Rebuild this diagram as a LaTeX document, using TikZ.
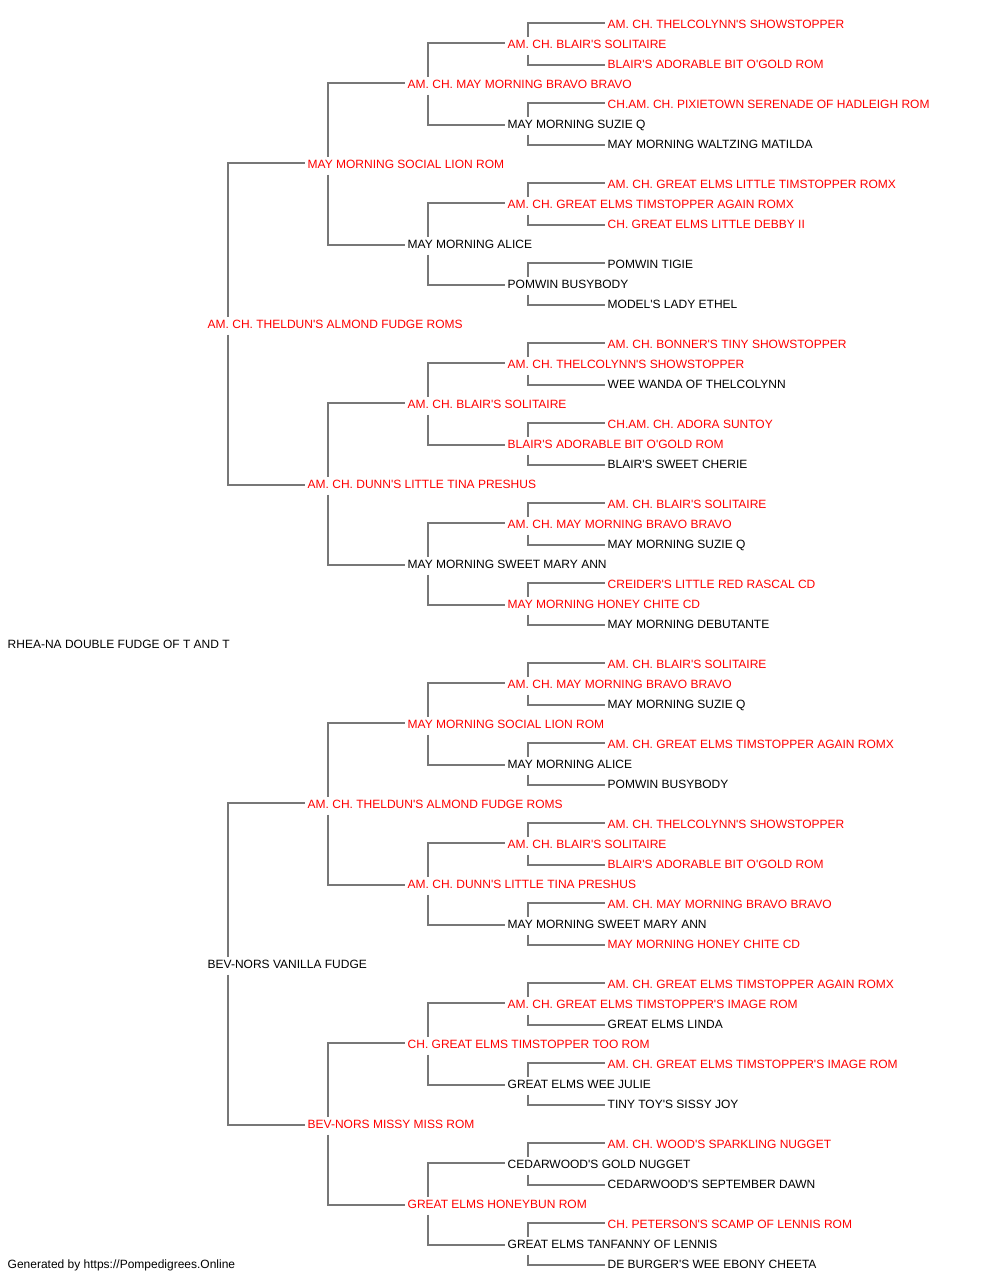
\documentclass[tikz,border=0pt]{standalone}
\usepackage{xcolor}
\usepackage{fontspec}
\setmainfont{Liberation Sans}[Ligatures=TeXOff]
\usepackage{tikz}
\usetikzlibrary{calc}
\definecolor{pedred}{HTML}{FF0000}
\definecolor{linegray}{HTML}{777777}
\newcommand{\pedlink}[3]{%
  \draw[pedline] ([xshift=20pt]#1.north west) |- ([xshift=-3pt,yshift=5.5pt]#2.base west);%
  \draw[pedline] ([xshift=20pt]#1.south west) |- ([xshift=-3pt,yshift=3.5pt]#3.base west);}

\begin{document}
\begin{tikzpicture}[x=1pt,y=-1pt]
    \tikzstyle{every node}=[font=\fontsize{12pt}{14pt}\selectfont, anchor=base west, inner sep=0pt, text height=11pt, text depth=6.5pt]
    \tikzstyle{champ}=[text=pedred]
    \tikzstyle{pedline}=[draw=linegray, line width=2pt]
    \fill[white] (0,0) rectangle (1000,1280);
    \useasboundingbox (0,0) rectangle (1000,1280);
    % root and parents
    \node (R) at (7.5,648) {RHEA-NA DOUBLE FUDGE OF T AND T}; %
    \node[champ] (S) at (207.5,328) {AM. CH. THELDUN'S ALMOND FUDGE ROMS}; %
    \node (D) at (207.5,968) {BEV-NORS VANILLA FUDGE}; %
    % grandparents
    \node[champ] (SS) at (307.5,168) {MAY MORNING SOCIAL LION ROM}; %
    \node[champ] (SD) at (307.5,488) {AM. CH. DUNN'S LITTLE TINA PRESHUS}; %
    \node[champ] (DS) at (307.5,808) {AM. CH. THELDUN'S ALMOND FUDGE ROMS}; %
    \node[champ] (DD) at (307.5,1128) {BEV-NORS MISSY MISS ROM}; %
    % third generation
    \node[champ] (SSS) at (407.5,88) {AM. CH. MAY MORNING BRAVO BRAVO}; %
    \node (SSD) at (407.5,248) {MAY MORNING ALICE}; %
    \node[champ] (SDS) at (407.5,408) {AM. CH. BLAIR'S SOLITAIRE}; %
    \node (SDD) at (407.5,568) {MAY MORNING SWEET MARY ANN}; %
    \node[champ] (DSS) at (407.5,728) {MAY MORNING SOCIAL LION ROM}; %
    \node[champ] (DSD) at (407.5,888) {AM. CH. DUNN'S LITTLE TINA PRESHUS}; %
    \node[champ] (DDS) at (407.5,1048) {CH. GREAT ELMS TIMSTOPPER TOO ROM}; %
    \node[champ] (DDD) at (407.5,1208) {GREAT ELMS HONEYBUN ROM}; %
    % fourth generation
    \node[champ] (SSSS) at (507.5,48) {AM. CH. BLAIR'S SOLITAIRE}; %
    \node (SSSD) at (507.5,128) {MAY MORNING SUZIE Q}; %
    \node[champ] (SSDS) at (507.5,208) {AM. CH. GREAT ELMS TIMSTOPPER AGAIN ROMX}; %
    \node (SSDD) at (507.5,288) {POMWIN BUSYBODY}; %
    \node[champ] (SDSS) at (507.5,368) {AM. CH. THELCOLYNN'S SHOWSTOPPER}; %
    \node[champ] (SDSD) at (507.5,448) {BLAIR'S ADORABLE BIT O'GOLD ROM}; %
    \node[champ] (SDDS) at (507.5,528) {AM. CH. MAY MORNING BRAVO BRAVO}; %
    \node[champ] (SDDD) at (507.5,608) {MAY MORNING HONEY CHITE CD}; %
    \node[champ] (DSSS) at (507.5,688) {AM. CH. MAY MORNING BRAVO BRAVO}; %
    \node (DSSD) at (507.5,768) {MAY MORNING ALICE}; %
    \node[champ] (DSDS) at (507.5,848) {AM. CH. BLAIR'S SOLITAIRE}; %
    \node (DSDD) at (507.5,928) {MAY MORNING SWEET MARY ANN}; %
    \node[champ] (DDSS) at (507.5,1008) {AM. CH. GREAT ELMS TIMSTOPPER'S IMAGE ROM}; %
    \node (DDSD) at (507.5,1088) {GREAT ELMS WEE JULIE}; %
    \node (DDDS) at (507.5,1168) {CEDARWOOD'S GOLD NUGGET}; %
    \node (DDDD) at (507.5,1248) {GREAT ELMS TANFANNY OF LENNIS}; %
    % fifth generation
    \node[champ] (SSSSS) at (607.5,28) {AM. CH. THELCOLYNN'S SHOWSTOPPER}; %
    \node[champ] (SSSSD) at (607.5,68) {BLAIR'S ADORABLE BIT O'GOLD ROM}; %
    \node[champ] (SSSDS) at (607.5,108) {CH.AM. CH. PIXIETOWN SERENADE OF HADLEIGH ROM}; %
    \node (SSSDD) at (607.5,148) {MAY MORNING WALTZING MATILDA}; %
    \node[champ] (SSDSS) at (607.5,188) {AM. CH. GREAT ELMS LITTLE TIMSTOPPER ROMX}; %
    \node[champ] (SSDSD) at (607.5,228) {CH. GREAT ELMS LITTLE DEBBY II}; %
    \node (SSDDS) at (607.5,268) {POMWIN TIGIE}; %
    \node (SSDDD) at (607.5,308) {MODEL'S LADY ETHEL}; %
    \node[champ] (SDSSS) at (607.5,348) {AM. CH. BONNER'S TINY SHOWSTOPPER}; %
    \node (SDSSD) at (607.5,388) {WEE WANDA OF THELCOLYNN}; %
    \node[champ] (SDSDS) at (607.5,428) {CH.AM. CH. ADORA SUNTOY}; %
    \node (SDSDD) at (607.5,468) {BLAIR'S SWEET CHERIE}; %
    \node[champ] (SDDSS) at (607.5,508) {AM. CH. BLAIR'S SOLITAIRE}; %
    \node (SDDSD) at (607.5,548) {MAY MORNING SUZIE Q}; %
    \node[champ] (SDDDS) at (607.5,588) {CREIDER'S LITTLE RED RASCAL CD}; %
    \node (SDDDD) at (607.5,628) {MAY MORNING DEBUTANTE}; %
    \node[champ] (DSSSS) at (607.5,668) {AM. CH. BLAIR'S SOLITAIRE}; %
    \node (DSSSD) at (607.5,708) {MAY MORNING SUZIE Q}; %
    \node[champ] (DSSDS) at (607.5,748) {AM. CH. GREAT ELMS TIMSTOPPER AGAIN ROMX}; %
    \node (DSSDD) at (607.5,788) {POMWIN BUSYBODY}; %
    \node[champ] (DSDSS) at (607.5,828) {AM. CH. THELCOLYNN'S SHOWSTOPPER}; %
    \node[champ] (DSDSD) at (607.5,868) {BLAIR'S ADORABLE BIT O'GOLD ROM}; %
    \node[champ] (DSDDS) at (607.5,908) {AM. CH. MAY MORNING BRAVO BRAVO}; %
    \node[champ] (DSDDD) at (607.5,948) {MAY MORNING HONEY CHITE CD}; %
    \node[champ] (DDSSS) at (607.5,988) {AM. CH. GREAT ELMS TIMSTOPPER AGAIN ROMX}; %
    \node (DDSSD) at (607.5,1028) {GREAT ELMS LINDA}; %
    \node[champ] (DDSDS) at (607.5,1068) {AM. CH. GREAT ELMS TIMSTOPPER'S IMAGE ROM}; %
    \node (DDSDD) at (607.5,1108) {TINY TOY'S SISSY JOY}; %
    \node[champ] (DDDSS) at (607.5,1148) {AM. CH. WOOD'S SPARKLING NUGGET}; %
    \node (DDDSD) at (607.5,1188) {CEDARWOOD'S SEPTEMBER DAWN}; %
    \node[champ] (DDDDS) at (607.5,1228) {CH. PETERSON'S SCAMP OF LENNIS ROM}; %
    \node (DDDDD) at (607.5,1268) {DE BURGER'S WEE EBONY CHEETA}; %
    \node (footer) at (7.5,1268) {Generated by https://Pompedigrees.Online}; %
    % connectors
    \pedlink{S}{SS}{SD} %
    \pedlink{D}{DS}{DD} %
    \pedlink{SS}{SSS}{SSD} %
    \pedlink{SD}{SDS}{SDD} %
    \pedlink{DS}{DSS}{DSD} %
    \pedlink{DD}{DDS}{DDD} %
    \pedlink{SSS}{SSSS}{SSSD} %
    \pedlink{SSD}{SSDS}{SSDD} %
    \pedlink{SDS}{SDSS}{SDSD} %
    \pedlink{SDD}{SDDS}{SDDD} %
    \pedlink{DSS}{DSSS}{DSSD} %
    \pedlink{DSD}{DSDS}{DSDD} %
    \pedlink{DDS}{DDSS}{DDSD} %
    \pedlink{DDD}{DDDS}{DDDD} %
    \pedlink{SSSS}{SSSSS}{SSSSD} %
    \pedlink{SSSD}{SSSDS}{SSSDD} %
    \pedlink{SSDS}{SSDSS}{SSDSD} %
    \pedlink{SSDD}{SSDDS}{SSDDD} %
    \pedlink{SDSS}{SDSSS}{SDSSD} %
    \pedlink{SDSD}{SDSDS}{SDSDD} %
    \pedlink{SDDS}{SDDSS}{SDDSD} %
    \pedlink{SDDD}{SDDDS}{SDDDD} %
    \pedlink{DSSS}{DSSSS}{DSSSD} %
    \pedlink{DSSD}{DSSDS}{DSSDD} %
    \pedlink{DSDS}{DSDSS}{DSDSD} %
    \pedlink{DSDD}{DSDDS}{DSDDD} %
    \pedlink{DDSS}{DDSSS}{DDSSD} %
    \pedlink{DDSD}{DDSDS}{DDSDD} %
    \pedlink{DDDS}{DDDSS}{DDDSD} %
    \pedlink{DDDD}{DDDDS}{DDDDD} %
\end{tikzpicture}
\end{document}
